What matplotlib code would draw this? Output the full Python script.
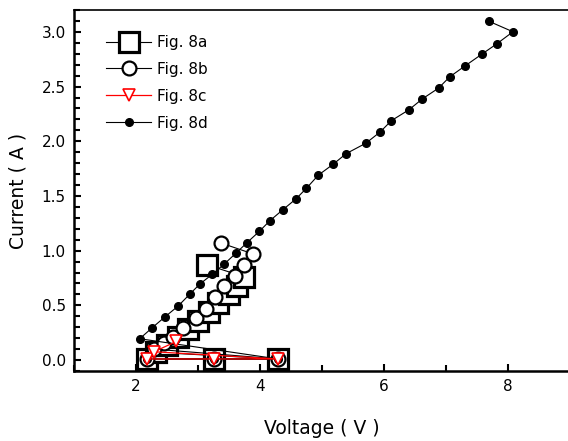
import matplotlib
matplotlib.use("Agg")
import matplotlib.pyplot as plt
from matplotlib.ticker import MultipleLocator, FormatStrFormatter

plt.rcParams["font.family"] = ["DejaVu Sans"]

# Fig. 8a (squares): zero points, rising sweep, last point
v_a = [2.17, 3.26, 4.29, 2.33, 2.5, 2.67, 2.84, 3.0, 3.17, 3.33, 3.5, 3.63, 3.75, 3.15]
i_a = [0.01, 0.01, 0.01, 0.07, 0.14, 0.21, 0.28, 0.36, 0.44, 0.52, 0.60, 0.68, 0.76, 0.87]

# Fig. 8b (circles)
v_b = [2.17, 3.26, 4.29, 2.29, 2.45, 2.59, 2.75, 2.97, 3.13, 3.28, 3.42, 3.60, 3.75, 3.89, 3.37]
i_b = [0.01, 0.01, 0.01, 0.10, 0.16, 0.21, 0.29, 0.38, 0.47, 0.58, 0.68, 0.77, 0.87, 0.97, 1.07]

# Fig. 8c (triangles)
v_c = [2.17, 3.26, 4.29, 2.29, 2.65]
i_c = [0.01, 0.01, 0.01, 0.076, 0.17]

# Fig. 8d (dots)
v_d = [2.17, 3.26, 4.29,
       2.06, 2.26, 2.47, 2.68, 2.87, 3.03, 3.23, 3.42, 3.61, 3.79,
       3.99, 4.16, 4.37, 4.58, 4.75, 4.94, 5.18, 5.39, 5.71, 5.94,
       6.12, 6.40, 6.62, 6.88, 7.06, 7.31, 7.58, 7.82, 8.08, 7.70]
i_d = [0.01, 0.01, 0.01,
       0.195, 0.295, 0.396, 0.494, 0.604, 0.695, 0.784, 0.876, 0.976, 1.073,
       1.177, 1.274, 1.375, 1.473, 1.571, 1.690, 1.790, 1.887, 1.983, 2.086,
       2.189, 2.287, 2.388, 2.486, 2.589, 2.690, 2.797, 2.891, 3.001, 3.095]

fig = plt.figure(figsize=(5.68, 4.41), dpi=100)
ax = fig.add_axes([74 / 568, 70 / 441, 496 / 568, 361 / 441])

ax.plot(v_a, i_a, color="black", lw=0.8, marker="s", ms=14.5, mfc="white",
        mec="black", mew=2.3, label="Fig. 8a", zorder=2)
ax.plot(v_b, i_b, color="black", lw=0.8, marker="o", ms=10, mfc="white",
        mec="black", mew=1.6, label="Fig. 8b", zorder=3)
ax.plot(v_c, i_c, color="red", lw=0.9, marker="v", ms=9, mfc="white",
        mec="red", mew=1.2, label="Fig. 8c", zorder=5)
ax.plot(v_d, i_d, color="black", lw=0.8, marker="o", ms=5.5, mfc="black",
        mec="black", label="Fig. 8d", zorder=4)

ax.set_xlim(1, 9)
ax.set_ylim(-0.1, 3.2)
ax.xaxis.set_major_locator(MultipleLocator(2))
ax.xaxis.set_minor_locator(MultipleLocator(1))
ax.yaxis.set_major_locator(MultipleLocator(0.5))
ax.yaxis.set_minor_locator(MultipleLocator(0.1))
ax.yaxis.set_major_formatter(FormatStrFormatter("%.1f"))

ax.tick_params(which="both", direction="in", top=False, right=False,
               labelsize=11, width=1.5)
ax.tick_params(which="major", length=5, pad=6)
ax.tick_params(which="minor", length=4)

ax.spines["right"].set_visible(False)
ax.spines["left"].set_linewidth(1.8)
ax.spines["bottom"].set_linewidth(1.8)
ax.spines["top"].set_linewidth(1.2)

ax.set_xlabel("Voltage ( V )", fontsize=13.5, labelpad=18)
ax.set_ylabel("Current ( A )", fontsize=13.5, labelpad=10)

ax.legend(loc="upper left", bbox_to_anchor=(0.053, 0.948), frameon=False,
          fontsize=11, handlelength=2.9, handletextpad=0.4,
          labelspacing=0.78, borderaxespad=0)

fig.savefig("out.png", dpi=100)
